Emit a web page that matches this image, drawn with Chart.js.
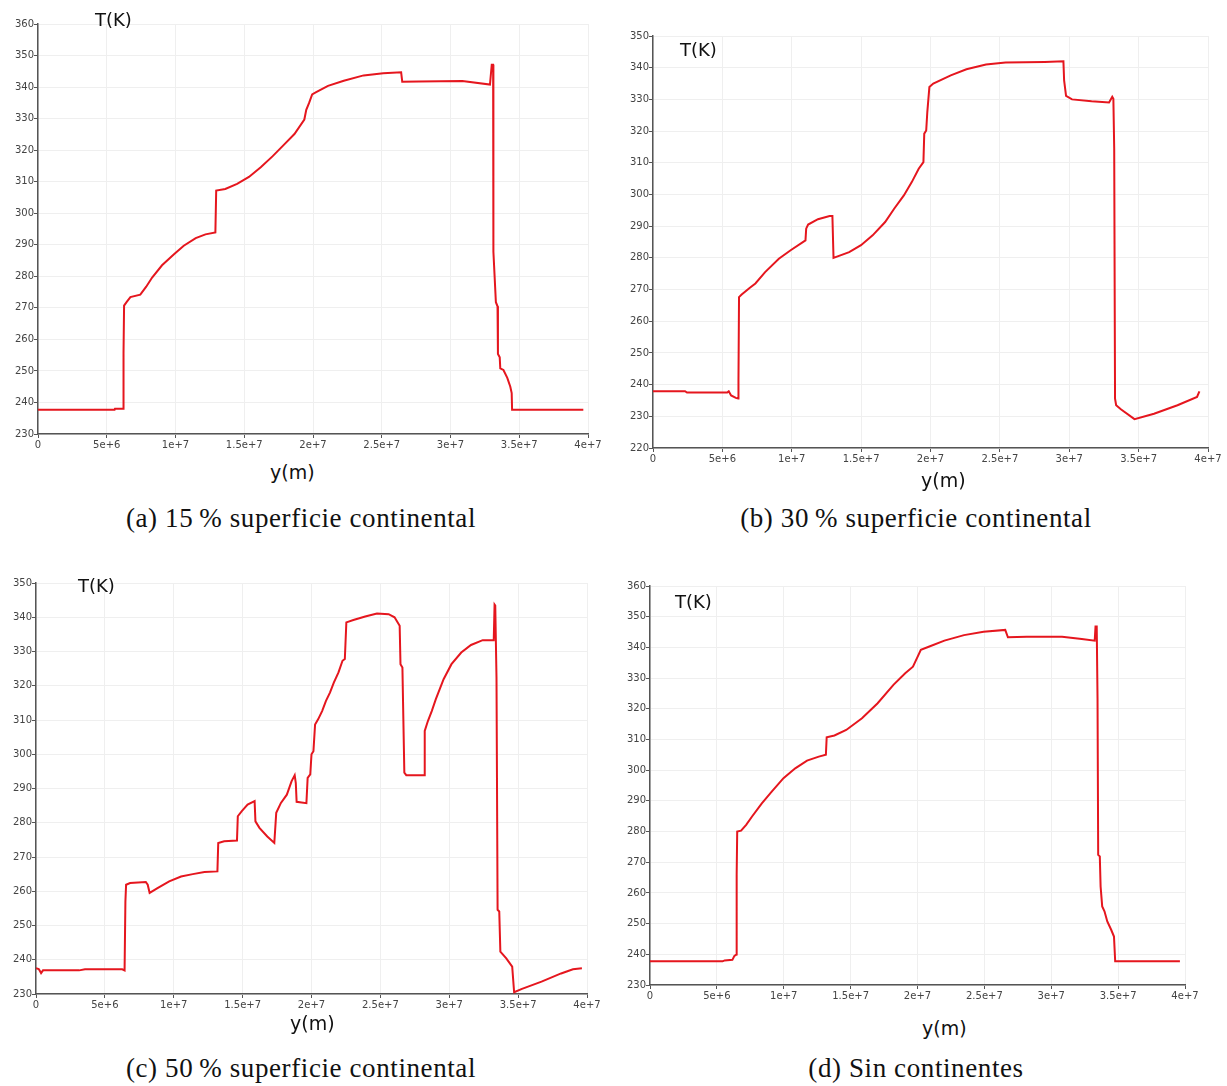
<!DOCTYPE html>
<html>
<head>
<meta charset="utf-8">
<script src="https://cdn.jsdelivr.net/npm/chart.js@4.4.1/dist/chart.umd.min.js"></script>
<style>
  html, body { margin: 0; padding: 0; background: #fff; }
  body { width: 1227px; height: 1086px; position: relative; overflow: hidden; }
  canvas { position: absolute; }
  .lbl { position: absolute; font-family: 'DejaVu Sans', sans-serif; color: #111; line-height: 1; white-space: nowrap; }
  .tk { font-size: 18px; }
  .ym { font-size: 19px; }
  .cap { position: absolute; width: 600px; text-align: center; font-family: 'Liberation Serif', serif; font-size: 27px; letter-spacing: 0.6px; line-height: 1; color: #111; white-space: nowrap; }
</style>
</head>
<body>
<canvas id="chartA"></canvas>
<canvas id="chartB"></canvas>
<canvas id="chartC"></canvas>
<canvas id="chartD"></canvas>

<div class="lbl tk" style="left:95px; top:11px;">T(K)</div>
<div class="lbl tk" style="left:680px; top:41px;">T(K)</div>
<div class="lbl tk" style="left:78px; top:577px;">T(K)</div>
<div class="lbl tk" style="left:675px; top:593px;">T(K)</div>

<div class="lbl ym" style="left:270px; top:463px;">y(m)</div>
<div class="lbl ym" style="left:921px; top:471px;">y(m)</div>
<div class="lbl ym" style="left:290px; top:1014px;">y(m)</div>
<div class="lbl ym" style="left:922px; top:1019px;">y(m)</div>

<div class="cap" style="left:1px; top:505px;">(a) 15&#8201;% superficie continental</div>
<div class="cap" style="left:616px; top:505px;">(b) 30&#8201;% superficie continental</div>
<div class="cap" style="left:1px; top:1055px;">(c) 50&#8201;% superficie continental</div>
<div class="cap" style="left:616px; top:1055px;">(d) Sin continentes</div>

<script>
// position y along the meridian (units of 1e6 m) and temperature T (K)

// (a) 15 % superficie continental
const yA = [0, 5.57, 5.6, 6.21, 6.22, 6.26, 6.44, 6.72, 7.44, 7.87, 8.30, 9.02, 9.89, 10.6, 11.47, 12.18, 12.9, 12.96,
  13.62, 14.48, 15.34, 16.2, 17.07, 17.93, 18.65, 19.37, 19.51, 19.71, 19.94, 20.23, 21.09, 22.24, 23.68, 25.11, 26.41,
  26.49, 27.7, 30.86, 32.87, 33.0, 33.1, 33.12, 33.3, 33.42, 33.45, 33.58, 33.62, 33.85, 34.13, 34.35, 34.45, 34.48, 39.66];
const tA = [237.7, 237.7, 238.0, 238.0, 255.6, 270.7, 271.8, 273.4, 274.2, 276.7, 279.6, 283.5, 287.0, 289.7, 292.1, 293.3, 293.9, 307.2,
  307.7, 309.3, 311.5, 314.6, 318.1, 321.9, 325.1, 329.7, 332.8, 334.9, 337.7, 338.4, 340.4, 342.0, 343.7, 344.4, 344.7,
  341.7, 341.8, 341.9, 340.8, 347.1, 347.1, 287.8, 271.8, 270.5, 255.4, 254.3, 250.8, 250.3, 247.8, 245.0, 243.0, 237.7, 237.7];

// (b) 30 % superficie continental
const yB = [0, 2.31, 2.45, 5.35, 5.46, 5.63, 5.97, 6.14, 6.16, 6.2, 6.39, 6.96, 7.38, 8.08, 9.07, 9.92, 10.99, 11.04,
  11.18, 11.89, 12.73, 12.93, 13.01, 14.14, 14.99, 15.83, 16.73, 17.38, 18.08, 18.65, 19.15, 19.49, 19.55, 19.69, 19.77,
  19.92, 20.2, 21.46, 22.59, 24.0, 25.41, 28.23, 29.58, 29.63, 29.77, 30.2, 31.61, 32.87, 32.96, 33.1, 33.18, 33.24,
  33.3, 33.38, 33.72, 34.7, 36.11, 37.8, 39.21, 39.38];
const tB = [237.9, 237.9, 237.5, 237.5, 237.9, 236.6, 235.8, 235.6, 241.4, 267.6, 268.4, 270.5, 271.9, 275.5, 279.7, 282.4, 285.5, 289.2,
  290.5, 292.2, 293.2, 293.2, 280.0, 281.8, 284.0, 287.1, 291.3, 295.5, 299.7, 303.9, 308.1, 310.2, 319.2, 320.2, 326.0,
  333.9, 335.0, 337.6, 339.5, 341.0, 341.6, 341.8, 342.0, 336.0, 331.1, 330.0, 329.4, 329.0, 329.7, 330.8, 330.2, 314.4,
  235.6, 233.5, 232.2, 229.1, 230.8, 233.5, 236.1, 237.9];

// (c) 50 % superficie continental
const yC = [0, 0.2, 0.37, 0.51, 3.13, 3.56, 6.26, 6.43, 6.49, 6.54, 6.83, 7.97, 8.11, 8.25, 8.82, 9.67, 10.53, 11.38,
  12.23, 13.17, 13.23, 13.66, 14.59, 14.65, 14.94, 15.36, 15.87, 15.93, 16.22, 16.79, 17.3, 17.44, 17.78, 18.21, 18.55,
  18.78, 18.86, 18.92, 19.63, 19.72, 19.91, 20.0, 20.14, 20.26, 20.48, 20.77, 21.05, 21.34, 21.62, 21.96, 22.25, 22.42,
  22.53, 23.04, 23.9, 24.75, 25.6, 26.03, 26.4, 26.46, 26.6, 26.74, 26.88, 28.17, 28.22, 28.45, 28.73, 29.02, 29.59,
  30.16, 30.87, 31.58, 32.43, 33.23, 33.29, 33.34, 33.43, 33.51, 33.63, 33.71, 34.14, 34.57, 34.71, 35.28, 36.7, 38.12,
  38.98, 39.63];
const tC = [237.5, 237.3, 236.1, 236.9, 236.9, 237.2, 237.2, 236.9, 257.0, 261.9, 262.4, 262.7, 261.9, 259.5, 260.9, 262.9, 264.3, 265.0,
  265.6, 265.8, 274.1, 274.6, 274.8, 281.9, 283.4, 285.3, 286.3, 280.4, 278.5, 276.0, 274.1, 282.9, 285.8, 288.2, 292.1,
  293.9, 291.6, 286.1, 285.7, 293.1, 294.1, 300.0, 300.9, 308.7, 310.2, 312.6, 315.6, 318.0, 320.9, 323.9, 327.3, 327.8,
  338.5, 339.2, 340.2, 341.1, 340.9, 340.0, 337.5, 326.3, 325.3, 294.6, 293.9, 293.9, 306.8, 309.7, 312.6, 316.0, 321.9,
  326.3, 329.7, 331.9, 333.3, 333.3, 343.7, 343.4, 322.4, 254.6, 254.1, 242.4, 240.4, 238.0, 230.5, 231.5, 233.6, 236.0,
  237.2, 237.5];

// (d) Sin continentes
const yD = [0, 5.43, 5.58, 6.16, 6.31, 6.46, 6.48, 6.52, 6.81, 7.19, 7.63, 8.36, 9.1, 9.98, 10.86, 11.74, 12.62, 13.15,
  13.21, 13.79, 14.67, 15.85, 17.02, 18.2, 19.08, 19.66, 19.96, 20.25, 20.84, 22.01, 23.48, 24.94, 26.56, 26.76, 28.17,
  30.81, 32.28, 33.25, 33.31, 33.4, 33.46, 33.51, 33.63, 33.69, 33.81, 33.98, 34.19, 34.48, 34.69, 34.78, 39.62];
const tD = [237.7, 237.7, 238.0, 238.2, 239.5, 239.9, 265.9, 280.0, 280.3, 282.2, 284.9, 289.2, 293.0, 297.4, 300.6, 303.1, 304.4, 305.0,
  310.7, 311.3, 313.1, 316.9, 321.8, 327.8, 331.6, 333.7, 336.5, 339.2, 340.2, 342.2, 344.0, 345.1, 345.7, 343.3, 343.5,
  343.5, 342.7, 342.2, 346.8, 346.8, 323.4, 272.4, 271.9, 262.1, 255.6, 254.0, 250.7, 248.0, 245.8, 237.7, 237.7];

// axis ticks
const xTickValues = [0, 5e6, 1e7, 1.5e7, 2e7, 2.5e7, 3e7, 3.5e7, 4e7];
const xTickLabels = ['0', '5e+6', '1e+7', '1.5e+7', '2e+7', '2.5e+7', '3e+7', '3.5e+7', '4e+7'];
const tLimitsA = [230, 360];
const tLimitsB = [220, 350];
const tLimitsC = [230, 350];
const tLimitsD = [230, 360];

const AXIS_W = 38, AXIS_H = 24, PAD_TOP = 14, PAD_RIGHT = 18;
const tickFont = { family: 'DejaVu Sans', size: 10 };

// plot area in page pixels: left, right, top, bottom
function drawPanel(id, area, ys, ts, limits) {
  const canvas = document.getElementById(id);
  const w = (area.right - area.left) + AXIS_W + PAD_RIGHT;
  const h = (area.bottom - area.top) + PAD_TOP + AXIS_H;
  canvas.width = w;
  canvas.height = h;
  canvas.style.width = w + 'px';
  canvas.style.height = h + 'px';
  canvas.style.left = (area.left - AXIS_W) + 'px';
  canvas.style.top = (area.top - PAD_TOP) + 'px';

  const yTicks = [];
  for (let v = limits[0]; v <= limits[1]; v += 10) yTicks.push(v);

  return new Chart(canvas.getContext('2d'), {
    type: 'line',
    data: {
      datasets: [{
        data: ys.map((y, i) => ({ x: y * 1e6, y: ts[i] })),
        borderColor: '#e5161e',
        borderWidth: 2,
        pointRadius: 0,
        tension: 0,
        fill: false
      }]
    },
    options: {
      responsive: false,
      animation: false,
      layout: { padding: { left: 0, top: PAD_TOP, right: PAD_RIGHT, bottom: 0 } },
      plugins: { legend: { display: false }, tooltip: { enabled: false } },
      scales: {
        x: {
          type: 'linear',
          min: 0,
          max: 4e7,
          afterBuildTicks: (s) => { s.ticks = xTickValues.map(v => ({ value: v })); },
          afterFit: (s) => { s.height = AXIS_H; },
          ticks: {
            callback: (v, i) => xTickLabels[i],
            autoSkip: false,
            maxRotation: 0,
            padding: 1,
            color: '#444',
            font: tickFont
          },
          grid: { color: '#efefef', tickLength: 4, tickColor: '#555' },
          border: { color: '#555', width: 1.5 }
        },
        y: {
          min: limits[0],
          max: limits[1],
          afterBuildTicks: (s) => { s.ticks = yTicks.map(v => ({ value: v })); },
          afterFit: (s) => { s.width = AXIS_W; },
          ticks: { padding: 0, color: '#444', font: tickFont },
          grid: { color: '#efefef', tickLength: 4, tickColor: '#555' },
          border: { color: '#555', width: 1.5 }
        }
      }
    }
  });
}

drawPanel('chartA', { left: 38, right: 588, top: 24, bottom: 434 }, yA, tA, tLimitsA);
drawPanel('chartB', { left: 653, right: 1208, top: 36, bottom: 448 }, yB, tB, tLimitsB);
drawPanel('chartC', { left: 36, right: 587, top: 583, bottom: 994 }, yC, tC, tLimitsC);
drawPanel('chartD', { left: 650, right: 1185, top: 586, bottom: 985 }, yD, tD, tLimitsD);
</script>
</body>
</html>
